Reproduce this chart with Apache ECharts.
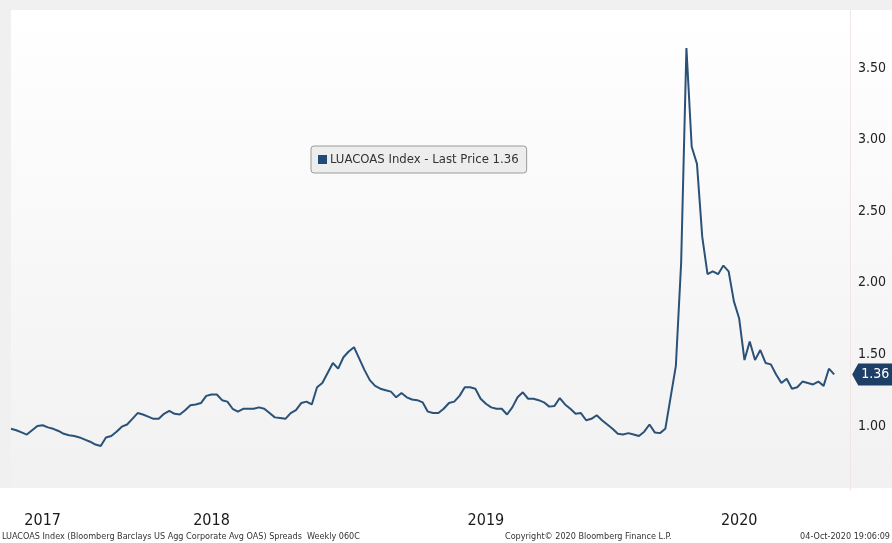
<!DOCTYPE html>
<html>
<head>
<meta charset="utf-8">
<script src="https://cdn.jsdelivr.net/npm/echarts@6/dist/echarts.min.js"></script>
<style>
  html, body { margin: 0; padding: 0; background: #fff; }
  #chart { width: 892px; height: 543px; }
</style>
</head>
<body>
<div id="chart"></div>
<script>
// weekly observations (Fridays), plus three empty weeks of axis room on the right
var weeks = [
  '2017-10-06','2017-10-13','2017-10-20','2017-10-27','2017-11-03','2017-11-10','2017-11-17','2017-11-24','2017-12-01','2017-12-08','2017-12-15','2017-12-22','2017-12-29',
  '2018-01-05','2018-01-12','2018-01-19','2018-01-26','2018-02-02','2018-02-09','2018-02-16','2018-02-23','2018-03-02','2018-03-09','2018-03-16','2018-03-23','2018-03-30',
  '2018-04-06','2018-04-13','2018-04-20','2018-04-27','2018-05-04','2018-05-11','2018-05-18','2018-05-25','2018-06-01','2018-06-08','2018-06-15','2018-06-22','2018-06-29',
  '2018-07-06','2018-07-13','2018-07-20','2018-07-27','2018-08-03','2018-08-10','2018-08-17','2018-08-24','2018-08-31','2018-09-07','2018-09-14','2018-09-21','2018-09-28',
  '2018-10-05','2018-10-12','2018-10-19','2018-10-26','2018-11-02','2018-11-09','2018-11-16','2018-11-23','2018-11-30','2018-12-07','2018-12-14','2018-12-21','2018-12-28',
  '2019-01-04','2019-01-11','2019-01-18','2019-01-25','2019-02-01','2019-02-08','2019-02-15','2019-02-22','2019-03-01','2019-03-08','2019-03-15','2019-03-22','2019-03-29',
  '2019-04-05','2019-04-12','2019-04-19','2019-04-26','2019-05-03','2019-05-10','2019-05-17','2019-05-24','2019-05-31','2019-06-07','2019-06-14','2019-06-21','2019-06-28',
  '2019-07-05','2019-07-12','2019-07-19','2019-07-26','2019-08-02','2019-08-09','2019-08-16','2019-08-23','2019-08-30','2019-09-06','2019-09-13','2019-09-20','2019-09-27',
  '2019-10-04','2019-10-11','2019-10-18','2019-10-25','2019-11-01','2019-11-08','2019-11-15','2019-11-22','2019-11-29','2019-12-06','2019-12-13','2019-12-20','2019-12-27',
  '2020-01-03','2020-01-10','2020-01-17','2020-01-24','2020-01-31','2020-02-07','2020-02-14','2020-02-21','2020-02-28','2020-03-06','2020-03-13','2020-03-20','2020-03-27',
  '2020-04-03','2020-04-10','2020-04-17','2020-04-24','2020-05-01','2020-05-08','2020-05-15','2020-05-22','2020-05-29','2020-06-05','2020-06-12','2020-06-19','2020-06-26',
  '2020-07-03','2020-07-10','2020-07-17','2020-07-24','2020-07-31','2020-08-07','2020-08-14','2020-08-21','2020-08-28','2020-09-04','2020-09-11','2020-09-18','2020-09-25',
  '2020-10-02',
  '2020-10-09','2020-10-16','2020-10-23'
];

var spread2017 = [0.98,0.97,0.955,0.94,0.97,1.00,1.005,0.99,0.98,0.965,0.945,0.935,0.93];
var spread2018 = [0.92,0.905,0.89,0.87,0.86,0.92,0.93,0.96,0.995,1.01,1.05,1.09,1.08,1.065,1.05,1.05,1.085,1.105,1.085,1.08,1.11,1.145,1.15,1.16,1.21,1.22,
                  1.22,1.18,1.17,1.12,1.10,1.12,1.12,1.12,1.13,1.12,1.09,1.06,1.055,1.05,1.09,1.11,1.16,1.17,1.15,1.27,1.30,1.37,1.44,1.40,1.48,1.52];
var spread2019 = [1.55,1.47,1.39,1.32,1.28,1.26,1.25,1.24,1.20,1.23,1.20,1.185,1.18,1.165,1.10,1.09,1.09,1.12,1.16,1.17,1.21,1.27,1.27,1.26,1.19,1.155,
                  1.13,1.12,1.12,1.08,1.13,1.20,1.235,1.19,1.19,1.18,1.165,1.135,1.14,1.195,1.15,1.12,1.085,1.09,1.04,1.05,1.075,1.04,1.01,0.98,0.945,0.94];
var spread2020 = [0.95,0.94,0.93,0.96,1.01,0.955,0.95,0.98,1.20,1.42,2.14,3.64,2.95,2.83,2.32,2.06,2.08,2.06,2.12,2.08,
                  1.87,1.75,1.46,1.59,1.46,1.53,1.44,1.43,1.36,1.30,1.33,1.26,1.27,1.31,1.30,1.29,1.31,1.28,1.40,1.36];

var spread = spread2017.concat(spread2018, spread2019, spread2020);
var lastIndex = spread.length - 1;
var lastPrice = spread[lastIndex];

// year labels sit under the middle of each year's visible stretch
var yearLabelWeeks = ['2017-11-17', '2018-06-29', '2019-06-28', '2020-05-29'];
var yTickLabels = [1.0, 1.5, 2.0, 2.5, 3.0, 3.5];

var font = '"DejaVu Sans Condensed", "Liberation Sans Narrow", "DejaVu Sans", sans-serif';

var chart = echarts.init(document.getElementById('chart'));

var option = {
  backgroundColor: '#ffffff',
  animation: false,
  graphic: [
    { type: 'rect', z: -10, shape: { x: 0, y: 0, width: 892, height: 10 }, style: { fill: '#f0f0f0' } },
    { type: 'rect', z: -10, shape: { x: 0, y: 10, width: 11, height: 478 }, style: { fill: '#f0f0f0' } },
    { type: 'rect', z: -10, shape: { x: 11, y: 10, width: 881, height: 478 },
      style: { fill: new echarts.graphic.LinearGradient(0, 0, 0, 1, [
        { offset: 0, color: '#ffffff' }, { offset: 1, color: '#f1f1f1' }
      ]) } },
    { type: 'text', left: 2, top: 532, style: { text: 'LUACOAS Index (Bloomberg Barclays US Agg Corporate Avg OAS) Spreads  Weekly 060C', font: '9px ' + font, fill: '#333' } },
    { type: 'text', left: 505, top: 532, style: { text: 'Copyright\u00a9 2020 Bloomberg Finance L.P.', font: '9px ' + font, fill: '#333' } },
    { type: 'text', right: 2, top: 532, style: { text: '04-Oct-2020 19:06:09', font: '9px ' + font, fill: '#333' } }
  ],
  legend: {
    left: 311,
    top: 146,
    padding: [7, 8, 7, 7],
    backgroundColor: '#ededed',
    borderColor: '#9a9a9a',
    borderWidth: 1,
    borderRadius: 3,
    icon: 'rect',
    itemWidth: 9,
    itemHeight: 9,
    itemGap: 4,
    textStyle: { fontFamily: font, fontSize: 13, color: '#333', padding: [0, 0, 0, -2] },
    formatter: function (name) { return name + ' - Last Price ' + lastPrice.toFixed(2); },
    data: ['LUACOAS Index']
  },
  grid: { left: 11, right: 42, top: 10.7, bottom: 52.6 },
  xAxis: {
    type: 'category',
    data: weeks,
    boundaryGap: false,
    axisLine: { show: false },
    axisTick: { show: false },
    axisLabel: {
      interval: function (i, v) { return yearLabelWeeks.indexOf(v) >= 0; },
      formatter: function (v) { return v.slice(0, 4); },
      fontFamily: font,
      fontSize: 16,
      color: '#1a1a1a',
      margin: 22
    },
    splitLine: { show: false }
  },
  yAxis: {
    type: 'value',
    position: 'right',
    min: 0.55,
    max: 3.9,
    interval: 0.05,
    axisLine: { show: true, lineStyle: { color: '#f3e4e4', width: 1 } },
    axisTick: { show: false },
    splitLine: { show: false },
    axisLabel: {
      margin: 8,
      fontFamily: font,
      fontSize: 14,
      color: '#222',
      formatter: function (v) {
        for (var k = 0; k < yTickLabels.length; k++) {
          if (Math.abs(v - yTickLabels[k]) < 1e-6) return yTickLabels[k].toFixed(2);
        }
        return '';
      }
    }
  },
  series: [{
    name: 'LUACOAS Index',
    type: 'line',
    data: spread,
    showSymbol: false,
    itemStyle: { color: '#1f4a7a' },
    lineStyle: { color: '#2a5178', width: 2 },
    markPoint: {
      silent: true,
      symbol: 'path://M0,11 L7,0 L46,0 L46,22 L7,22 Z',
      symbolSize: [40, 22],
      symbolKeepAspect: false,
      symbolOffset: [38, 0],
      itemStyle: { color: '#1d3e66' },
      label: {
        show: true,
        position: 'inside',
        offset: [3, 0],
        color: '#fff',
        fontFamily: font,
        fontSize: 14,
        formatter: function (p) { return Number(p.value).toFixed(2); }
      },
      data: [{ coord: [lastIndex, lastPrice], value: lastPrice }]
    }
  }]
};

chart.setOption(option);
</script>
</body>
</html>
